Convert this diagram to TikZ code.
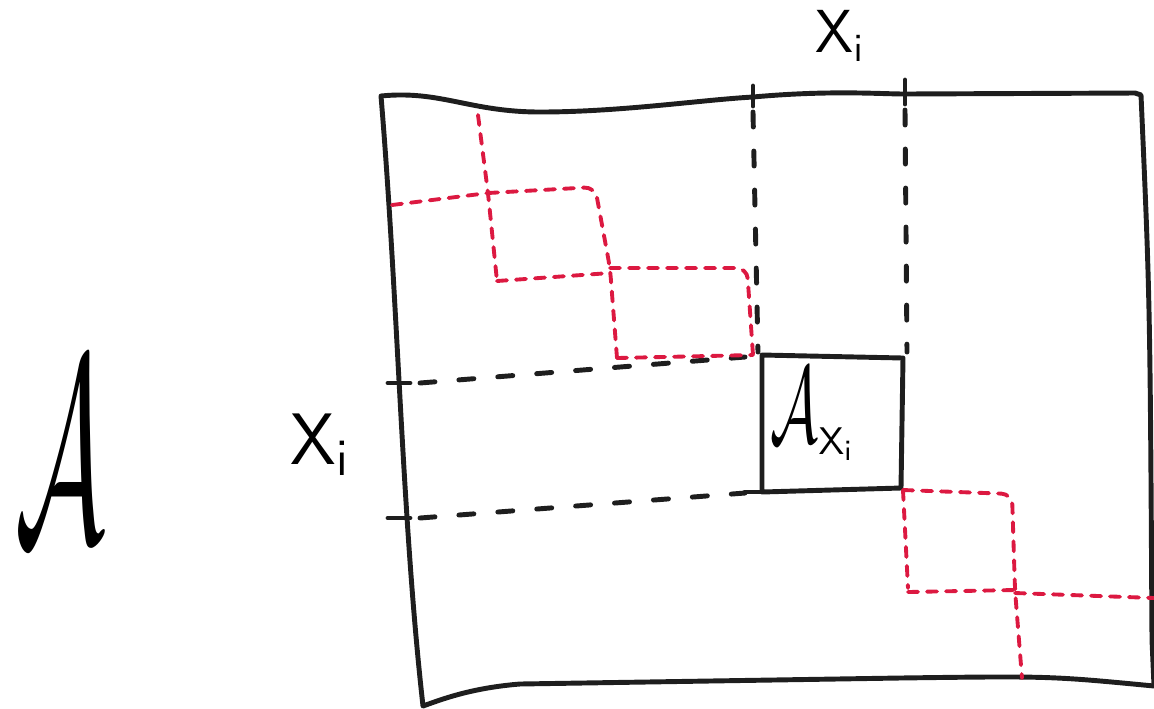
\documentclass[tikz,border=0pt]{standalone}
\usepackage{amsmath}
\definecolor{rouge}{RGB}{220,25,65}
\definecolor{encre}{RGB}{30,30,30}
\begin{document}
\begin{tikzpicture}[x=0.01cm, y=-0.01cm, line cap=round, line join=round,
    trait/.style={line width=1.4pt, encre},
    tirets/.style={line width=1.4pt, encre, dash pattern=on 0.15cm off 0.24cm},
    pointilles/.style={line width=1.1pt, rouge, rounded corners=3pt, dash pattern=on 0.1cm off 0.09cm}]
    \useasboundingbox (0,0) rectangle (1154,708);

    % Coins de la matrice
    \coordinate (NO) at (381,96);
    \coordinate (NE) at (1141,95);
    \coordinate (SE) at (1154,686);
    \coordinate (SO) at (423,706);

    % Bord de la matrice (a main levee)
    \draw[trait] (NO) .. controls (440,90) and (470,112) .. (540,112)
        .. controls (620,112) and (700,100) .. (753,97)
        .. controls (830,90) and (880,94) .. (905,94)
        -- (1135,93) -- (NE)
        .. controls (1150,300) .. (1152,640) -- (SE)
        .. controls (1050,676) .. (900,678) -- (520,684)
        .. controls (470,688) and (440,700) .. (SO)
        .. controls (402,520) and (398,300) .. (NO) -- cycle;

    % Bloc diagonal
    \coordinate (B1) at (762,355);
    \coordinate (B2) at (903,358);
    \coordinate (B3) at (901,488);
    \coordinate (B4) at (762,492);
    \draw[trait] (B1) -- (B2) -- (B3) -- (B4) -- cycle;
    \draw[trait] (745,492) -- (B4);

    % Reperes X_i (colonnes et lignes)
    \draw[trait] (753,86) -- (753,106);
    \draw[trait] (905,80) -- (905,104);
    \draw[trait] (388,383) -- (410,383);
    \draw[trait] (388,518) -- (410,518);
    \draw[tirets] (753,112) -- (758,352);
    \draw[tirets] (905,110) -- (907,352);
    \draw[tirets] (420,383) -- (745,357);
    \draw[tirets] (420,518) -- (745,493);

    % Blocs voisins (en rouge)
    \draw[pointilles] (478,115) -- (488,193) -- (497,281);
    \draw[pointilles] (392,205) -- (488,193);
    \draw[pointilles] (488,193) -- (595,187) -- (610,268) -- (617,358);
    \draw[pointilles] (497,281) -- (610,273);
    \draw[pointilles] (610,268) -- (747,268) -- (753,355);
    \draw[pointilles] (617,358) -- (753,355);
    \draw[pointilles] (903,490) -- (1012,494) -- (1015,590) -- (1022,678);
    \draw[pointilles] (903,490) -- (908,588);
    \draw[pointilles] (908,592) -- (1015,590);
    \draw[pointilles] (1015,593) -- (1154,598);

    % Etiquettes
    \node (lblA) at (60,450) {\scalebox{3.2}[7.5]{$\mathcal{A}$}};
    \node (lblXh) at (840,36) {\fontsize{16}{16}\selectfont$\mathsf{X}_{\mathsf{i}}$};
    \node (lblXg) at (320,445) {\fontsize{20}{20}\selectfont$\mathsf{X}_{\mathsf{i}}$};
    \node (lblAX) at (812,414) {\scalebox{1.7}[3.1]{$\mathcal{A}$}%
        \raisebox{-0.12cm}{\fontsize{11}{11}\selectfont$\mathsf{X}_{\mathsf{i}}$}};
\end{tikzpicture}
\end{document}
